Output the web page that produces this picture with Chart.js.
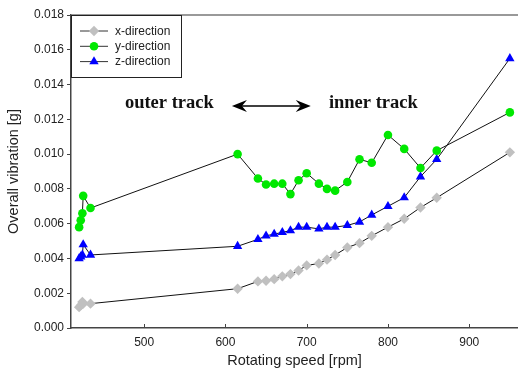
<!DOCTYPE html>
<html>
<head>
<meta charset="utf-8">
<script src="https://cdn.jsdelivr.net/npm/chart.js@4.4.1/dist/chart.umd.min.js"></script>
<style>
html, body { margin: 0; padding: 0; background: #fff; }
#wrap { width: 518px; height: 376px; position: relative; }
</style>
</head>
<body>
<div id="wrap"><canvas id="chart"></canvas></div>
<script>
const speeds = [420, 422, 424, 425, 434, 615, 640, 650, 660, 670, 680, 690, 700, 715, 725, 735, 750, 765, 780, 800, 820, 840, 860, 950];
const xDirection = [0.0012, 0.0013, 0.0015, 0.0014, 0.0014, 0.00226, 0.00268, 0.00272, 0.00281, 0.00297, 0.0031, 0.00331, 0.0036, 0.00371, 0.00393, 0.0042, 0.00463, 0.00488, 0.0053, 0.0058, 0.00628, 0.00693, 0.00749, 0.0101];
const yDirection = [0.0058, 0.0062, 0.0066, 0.0076, 0.0069, 0.01, 0.0086, 0.00825, 0.0083, 0.0083, 0.0077, 0.0085, 0.0089, 0.0083, 0.008, 0.0079, 0.0084, 0.0097, 0.0095, 0.0111, 0.0103, 0.0092, 0.0102, 0.0124];
const zDirection = [0.004, 0.0041, 0.0042, 0.0048, 0.0042, 0.0047, 0.0051, 0.0053, 0.0054, 0.0055, 0.0056, 0.0058, 0.0058, 0.0057, 0.0058, 0.0058, 0.0059, 0.0061, 0.0065, 0.007, 0.0075, 0.0087, 0.0097, 0.0155];
const xTicks = [500, 600, 700, 800, 900];
const yTicks = [0, 0.002, 0.004, 0.006, 0.008, 0.01, 0.012, 0.014, 0.016, 0.018];
const seriesNames = ['x-direction', 'y-direction', 'z-direction'];

// annotation positions, in data units
const trackLabels = [
	{ text: 'outer track', x: 531, y: 0.01295 },
	{ text: 'inner track', x: 782, y: 0.01295 }
];
const arrowSpan = { from: 608, to: 705, y: 0.01277 };

const get = id => document.getElementById(id);

const styles = [
	{ color: '#c0c0c0', shape: 'rectRot', radius: 5.2 },
	{ color: '#00e800', shape: 'circle', radius: 4.3 },
	{ color: '#0000ff', shape: 'triangle', radius: 5.4 }
];

const marker = (ctx, shape, x, y, r, color) => {
	ctx.save();
	ctx.fillStyle = color;
	ctx.beginPath();
	if (shape === 'circle') {
		ctx.arc(x, y, r, 0, Math.PI * 2);
	} else if (shape === 'triangle') {
		ctx.moveTo(x, y - r);
		ctx.lineTo(x + r * 0.866, y + r * 0.5);
		ctx.lineTo(x - r * 0.866, y + r * 0.5);
		ctx.closePath();
	} else {
		ctx.moveTo(x, y - r);
		ctx.lineTo(x + r, y);
		ctx.lineTo(x, y + r);
		ctx.lineTo(x - r, y);
		ctx.closePath();
	}
	ctx.fill();
	ctx.restore();
};

const framePlugin = {
	id: 'frame',
	afterDraw(chart) {
		const { ctx, chartArea: a, scales } = chart;
		ctx.save();
		// top frame line
		ctx.strokeStyle = '#777';
		ctx.lineWidth = 1.5;
		ctx.beginPath();
		ctx.moveTo(a.left, a.top);
		ctx.lineTo(a.right, a.top);
		ctx.stroke();
		// inward x ticks
		ctx.strokeStyle = '#444';
		ctx.lineWidth = 1;
		for (const t of scales.x.ticks) {
			const px = Math.round(scales.x.getPixelForValue(t.value)) + 0.5;
			ctx.beginPath();
			ctx.moveTo(px, a.bottom);
			ctx.lineTo(px, a.bottom - 4);
			ctx.stroke();
		}
		ctx.restore();
	}
};

const notesPlugin = {
	id: 'notes',
	afterDatasetsDraw(chart) {
		const { ctx, scales } = chart;
		ctx.save();
		ctx.fillStyle = '#111';
		ctx.font = 'bold 18.5px "Liberation Serif", "DejaVu Serif", serif';
		ctx.textAlign = 'center';
		ctx.textBaseline = 'middle';
		for (const l of trackLabels) {
			ctx.fillText(l.text, scales.x.getPixelForValue(l.x), scales.y.getPixelForValue(l.y));
		}
		const x1 = scales.x.getPixelForValue(arrowSpan.from);
		const x2 = scales.x.getPixelForValue(arrowSpan.to);
		const y = Math.round(scales.y.getPixelForValue(arrowSpan.y));
		ctx.strokeStyle = '#000';
		ctx.lineWidth = 1.5;
		ctx.beginPath();
		ctx.moveTo(x1 + 6, y);
		ctx.lineTo(x2 - 6, y);
		ctx.stroke();
		ctx.fillStyle = '#000';
		const head = (tip, dir) => {
			ctx.beginPath();
			ctx.moveTo(tip, y);
			ctx.lineTo(tip - dir * 15, y - 6);
			ctx.lineTo(tip - dir * 10, y);
			ctx.lineTo(tip - dir * 15, y + 6);
			ctx.closePath();
			ctx.fill();
		};
		head(x1, -1);
		head(x2, 1);
		ctx.restore();
	}
};

const legendPlugin = {
	id: 'boxLegend',
	afterDraw(chart) {
		const { ctx, chartArea: a } = chart;
		const left = a.left, top = a.top;
		ctx.save();
		ctx.fillStyle = '#fff';
		ctx.fillRect(left, top, 110, 62);
		ctx.strokeStyle = '#222';
		ctx.lineWidth = 1;
		ctx.strokeRect(left + 0.5, top + 0.5, 110, 62);
		ctx.font = '12px "Liberation Sans", Arial, sans-serif';
		ctx.textBaseline = 'middle';
		seriesNames.forEach((name, i) => {
			const y = top + 16 + i * 15.3;
			ctx.strokeStyle = '#333';
			ctx.beginPath();
			ctx.moveTo(left + 9, y);
			ctx.lineTo(left + 37, y);
			ctx.stroke();
			marker(ctx, styles[i].shape, left + 23, y, styles[i].radius, styles[i].color);
			ctx.fillStyle = '#222';
			ctx.fillText(name, left + 44, y + 0.5);
		});
		ctx.restore();
	}
};

const datasets = [xDirection, yDirection, zDirection].map((values, i) => ({
	label: seriesNames[i],
	data: values.map((v, k) => ({ x: speeds[k], y: v })),
	borderColor: '#111',
	borderWidth: 1,
	pointStyle: styles[i].shape,
	pointRadius: styles[i].radius,
	pointBackgroundColor: styles[i].color,
	pointBorderWidth: 0,
	tension: 0
}));

new Chart(get('chart'), {
	type: 'scatter',
	data: { datasets: datasets },
	options: {
		responsive: true,
		maintainAspectRatio: false,
		animation: false,
		showLine: true,
		layout: { autoPadding: false, padding: { top: 15, right: 0, left: 0, bottom: 0 } },
		plugins: {
			legend: { display: false },
			tooltip: { enabled: false }
		},
		scales: {
			x: {
				type: 'linear',
				min: 410,
				max: 960,
				afterBuildTicks: s => { s.ticks = xTicks.map(v => ({ value: v })); },
				afterFit: s => { s.height = 48; },
				grid: { drawOnChartArea: false, drawTicks: false },
				border: { color: '#444', width: 1.5 },
				ticks: {
					padding: 7,
					color: '#222',
					font: { family: '"Liberation Sans", Arial, sans-serif', size: 12 },
					maxRotation: 0
				},
				title: {
					display: true,
					text: 'Rotating speed [rpm]',
					color: '#222',
					font: { family: '"Liberation Sans", Arial, sans-serif', size: 14.5 },
					padding: { top: 0, bottom: 6 }
				}
			},
			y: {
				min: 0,
				max: 0.018,
				afterBuildTicks: s => { s.ticks = yTicks.map(v => ({ value: v })); },
				afterFit: s => { s.width = 71; },
				grid: { drawOnChartArea: false, drawTicks: true, tickLength: 4, color: '#444' },
				border: { color: '#444', width: 1.5 },
				ticks: {
					padding: 3,
					color: '#222',
					font: { family: '"Liberation Sans", Arial, sans-serif', size: 12 },
					callback: v => v.toFixed(3)
				},
				title: {
					display: true,
					text: 'Overall vibration [g]',
					color: '#222',
					font: { family: '"Liberation Sans", Arial, sans-serif', size: 14.5 },
					padding: { top: 5, bottom: 0 }
				}
			}
		}
	},
	plugins: [framePlugin, notesPlugin, legendPlugin]
});
</script>
</body>
</html>
